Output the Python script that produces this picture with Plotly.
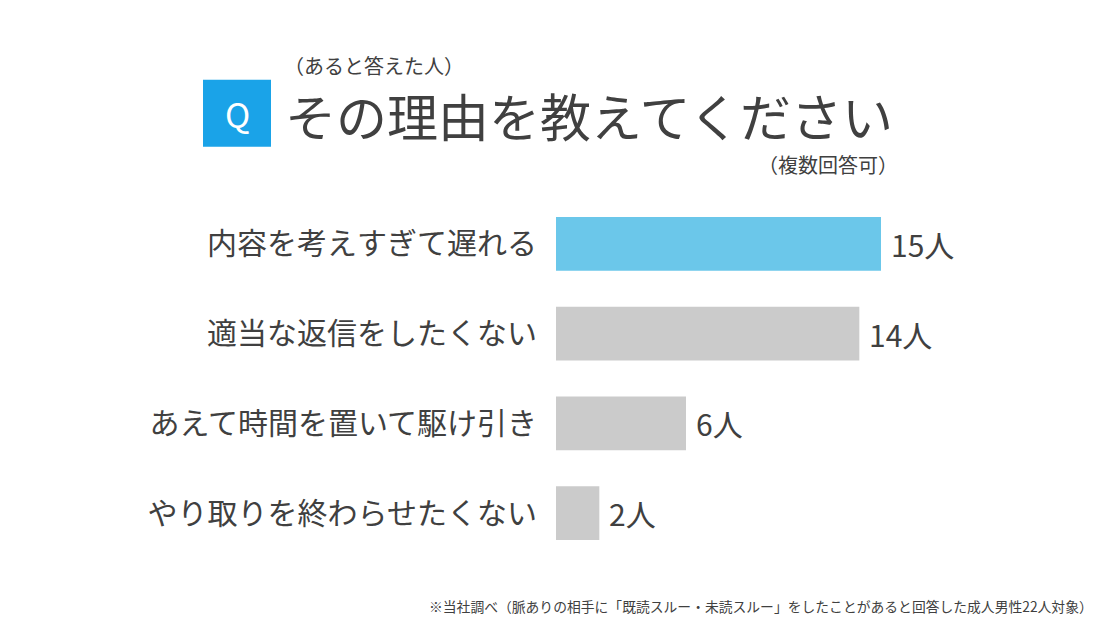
import plotly.graph_objects as go

categories = ["内容を考えすぎて遅れる", "適当な返信をしたくない", "あえて時間を置いて駆け引き", "やり取りを終わらせたくない"]
values = [15, 14, 6, 2]
value_labels = ["15人", "14人", "6人", "2人"]
colors = ["#6bc7ea", "#cbcbcb", "#cbcbcb", "#cbcbcb"]

FONT = "Noto Sans CJK JP"
TXT = "#404040"

W, H = 1100, 637
OFF = 8  # page body offset
L, R, T, B = 556 - OFF, 50 - OFF, 198.5 - OFF, 78.5 + OFF
PW, PH = W - L - R, H - T - B

def px(x):  # window pixel -> paper x
    return ((x - OFF) - L) / PW

def py(y):  # window pixel -> paper y
    return 1 - ((y - OFF) - T) / PH

fig = go.Figure()
fig.add_trace(go.Bar(
    x=values, y=categories, orientation="h",
    marker=dict(color=colors, line=dict(width=0)),
    hoverinfo="skip",
))

for c, v, lab in zip(categories, values, value_labels):
    fig.add_annotation(x=v, y=c, text=lab, showarrow=False, xanchor="left",
                       xshift=8, font=dict(family=FONT, size=30, color=TXT))

# Q box
fig.add_shape(type="rect", xref="paper", yref="paper",
              x0=px(203), x1=px(271), y0=py(146), y1=py(79),
              fillcolor="#1aa3e8", line=dict(width=0), layer="below")
fig.add_annotation(xref="paper", yref="paper", x=px(237), y=py(113), text="Q",
                   showarrow=False, xanchor="center", yanchor="middle",
                   font=dict(family=FONT, size=34, color="white"))
fig.add_annotation(xref="paper", yref="paper", x=px(283), y=py(114),
                   text="その理由を教えてください", showarrow=False,
                   xanchor="left", yanchor="middle",
                   font=dict(family=FONT, size=51, color=TXT))
fig.add_annotation(xref="paper", yref="paper", x=px(282), y=py(65),
                   text="（あると答えた人）", showarrow=False,
                   xanchor="left", yanchor="middle",
                   font=dict(family=FONT, size=20, color=TXT))
fig.add_annotation(xref="paper", yref="paper", x=px(900), y=py(164),
                   text="（複数回答可）", showarrow=False,
                   xanchor="right", yanchor="middle",
                   font=dict(family=FONT, size=20, color=TXT))
fig.add_annotation(xref="paper", yref="paper", x=px(1095), y=py(607),
                   text="※当社調べ（脈ありの相手に「既読スルー・未読スルー」をしたことがあると回答した成人男性22人対象）",
                   showarrow=False, xanchor="right", yanchor="middle",
                   font=dict(family=FONT, size=13.8, color=TXT))

fig.update_layout(
    width=W, height=H,
    margin=dict(l=L, r=R, t=T, b=B, pad=0, autoexpand=False),
    paper_bgcolor="white", plot_bgcolor="white",
    showlegend=False, bargap=0.4,
    xaxis=dict(range=[0, PW / (325 / 15)], visible=False, fixedrange=True),
    yaxis=dict(autorange="reversed", showgrid=False, zeroline=False, showline=False,
               ticks="", ticklabelstandoff=18,
               tickfont=dict(family=FONT, size=30, color=TXT), fixedrange=True),
    font=dict(family=FONT, color=TXT),
)

fig.write_html("out.html")
